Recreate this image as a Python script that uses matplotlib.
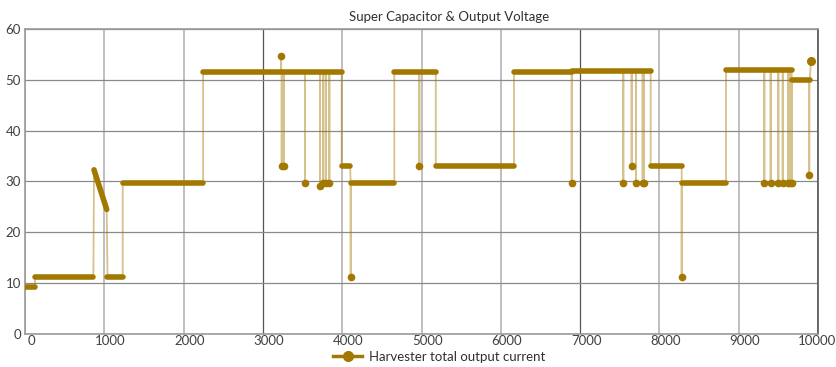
import matplotlib.pyplot as plt
from matplotlib.transforms import ScaledTranslation

# flat runs of the trace: start, end, value at start, value at end
run_start = [0, 126, 870, 1040, 1232, 2246, 3993, 4107, 4657, 5180, 6166, 6894, 7890, 8281, 8840, 9668]
run_end = [126, 862, 1030, 1232, 2246, 3993, 4100, 4657, 5180, 6166, 6894, 7890, 8281, 8840, 9668, 9895]
run_y0 = [9.2, 11.2, 32.3, 11.3, 29.8, 51.5, 33.0, 29.7, 51.5, 33.0, 51.5, 51.8, 33.1, 29.7, 51.9, 49.9]
run_y1 = [9.2, 11.2, 24.5, 11.3, 29.8, 51.5, 33.0, 29.7, 51.5, 33.0, 51.5, 51.8, 33.1, 29.7, 51.9, 49.9]

# single-sample excursions away from the run level
dip_x = [3230, 3237, 3262, 3531, 3720, 3762, 3796, 3838, 4107, 4973, 6894, 7545, 7650, 7705,
         7789, 7806, 8281, 9323, 9403, 9500, 9555, 9625, 9645, 9668, 9890]
dip_y = [54.6, 33.0, 33.0, 29.7, 29.1, 29.7, 29.7, 29.7, 11.2, 33.0, 29.7, 29.7, 33.1, 29.7,
         29.7, 29.7, 11.2, 29.7, 29.7, 29.7, 29.7, 29.7, 29.7, 29.7, 31.3]

last_x = 9912
last_y = 53.8

x_ticks = list(range(0, 10001, 1000))
y_ticks = list(range(0, 61, 10))

color = '#A27800'

# build the connecting trace
px, py = [], []
for s, e, a, b in zip(run_start, run_end, run_y0, run_y1):
    px.append(s)
    py.append(a)
    for dx, dy in sorted(zip(dip_x, dip_y)):
        if s <= dx < e:
            lvl = a + (b - a) * (dx - s) / (e - s)
            px += [dx, dx, dx]
            py += [lvl, dy, lvl]
    px.append(e)
    py.append(b)
px.append(last_x)
py.append(last_y)

plt.rcParams['font.family'] = ['Lato', 'DejaVu Sans']
fig = plt.figure(figsize=(8.37, 3.67), dpi=100)
ax = fig.add_axes([0.0299, 0.0899, 0.9474, 0.8311])

for xt in x_ticks:
    dark = xt in (3000, 7000)
    ax.axvline(xt, color='#555555' if dark else '#b4b4b4', lw=0.9 if dark else 1.2, zorder=0)
for yt in y_ticks:
    ax.axhline(yt, color='#8a8a8a', lw=0.9, zorder=0)

ax.plot(px, py, color=color, lw=1.3, alpha=0.45, zorder=2)
for s, e, a, b in zip(run_start, run_end, run_y0, run_y1):
    ax.plot([s, e], [a, b], color=color, lw=4, solid_capstyle='round', zorder=3)
ax.plot(dip_x, dip_y, 'o', color=color, ms=4.5, zorder=4)
ax.plot([last_x], [last_y], 'o', color=color, ms=5.5, zorder=4)

ax.set_xlim(0, 10000)
ax.set_ylim(0, 60)
ax.set_xticks(x_ticks)
ax.set_yticks(y_ticks)
ax.tick_params(length=0, labelsize=9.5, labelcolor='#404040', pad=1)
ax.tick_params(axis='y', pad=3)
shift = ScaledTranslation(0.06, 0, fig.dpi_scale_trans)
xlabels = ax.get_xticklabels()
for lab in xlabels[:-1]:
    lab.set_transform(lab.get_transform() + shift)
xlabels[-1].set_transform(xlabels[-1].get_transform() + ScaledTranslation(-0.01, 0, fig.dpi_scale_trans))
for sp in ax.spines.values():
    sp.set_color('#9a9a9a')
    sp.set_linewidth(1.2)
ax.spines['right'].set_color('#555555')

fig.text(0.536, 0.955, 'Super Capacitor & Output Voltage', ha='center', va='center',
         fontsize=9.5, color='#303030')

h, = ax.plot([], [], '-o', color=color, lw=2.5, ms=7)
fig.legend([h], ['Harvester total output current'], loc='center', bbox_to_anchor=(0.525, 0.027),
           frameon=False, fontsize=9.5, handlelength=2.2, handletextpad=0.5, labelcolor='#303030')

fig.savefig('out.png', dpi=100)
